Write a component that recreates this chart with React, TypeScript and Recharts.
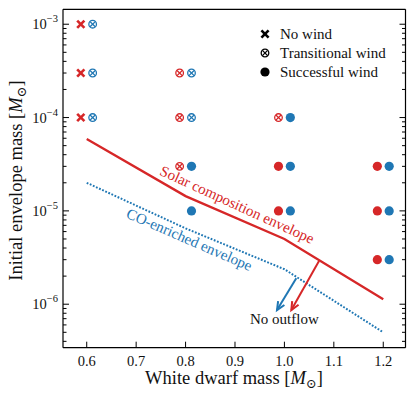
import React from "react"
import { ComposedChart, Line, Scatter, XAxis, YAxis, ReferenceLine, ReferenceDot } from "recharts"

const RED = "#d62728"
const BLUE = "#1f77b4"
const FONT = "'Liberation Serif', 'DejaVu Serif', serif"

// runs: [white dwarf mass, initial envelope mass]
const solarNoWind = [[0.6, 1e-3], [0.6, 3e-4], [0.6, 1e-4]]
const solarTransitional = [[0.8, 3e-4], [0.8, 1e-4], [0.8, 3e-5], [1.0, 1e-4]]
const solarSuccessful = [[1.0, 3e-5], [1.0, 1e-5], [1.2, 3e-5], [1.2, 1e-5], [1.2, 3e-6]]
const coTransitional = [[0.6, 1e-3], [0.6, 3e-4], [0.6, 1e-4], [0.8, 3e-4], [0.8, 1e-4]]
const coSuccessful = [[0.8, 3e-5], [0.8, 1e-5], [1.0, 1e-4], [1.0, 3e-5], [1.0, 1e-5], [1.2, 3e-5], [1.2, 1e-5], [1.2, 3e-6]]

// outflow boundaries
const boundaryMasses = [0.6, 0.8, 1.0, 1.2]
const solarBoundary = [5.9e-5, 1.44e-5, 5.0e-6, 1.13e-6]
const coBoundary = [2.0e-5, 6.5e-6, 2.37e-6, 5.0e-7]

// "No outflow" arrows: [start, end]
const solarArrow = [[1.07, 2.9e-6], [1.014, 8.65e-7]]
const coArrow = [[1.024, 1.9e-6], [0.985, 8.65e-7]]

const xTicks = [0.6, 0.7, 0.8, 0.9, 1.0, 1.1, 1.2]
const xDomain = [0.552, 1.245]
const yDomain = [3.42e-7, 1.445e-3]

// log axis: majors at decades, minors at 2..9 x decade
const yTicks: number[] = []
;[1e-7, 1e-6, 1e-5, 1e-4, 1e-3].forEach((d) => {
  for (let k = 1; k < 10; k++) {
    const v = d * k
    if (v >= yDomain[0] && v <= yDomain[1]) yTicks.push(v)
  }
})

const OFFSET = 0.012
const toPoints = (runs: number[][], dx: number) => runs.map(([m, e]) => ({ x: m + dx, y: e }))
const toLine = (ys: number[]) => boundaryMasses.map((m, i) => ({ x: m, y: ys[i] }))

const isMajor = (v: number) => Math.abs(Math.log10(v) - Math.round(Math.log10(v))) < 1e-6

const Cross = ({ cx, cy, color }: any) => (
  <g stroke={color} strokeWidth={2.6}>
    <line x1={cx - 3.6} y1={cy - 3.6} x2={cx + 3.6} y2={cy + 3.6} />
    <line x1={cx - 3.6} y1={cy + 3.6} x2={cx + 3.6} y2={cy - 3.6} />
  </g>
)
const OCross = ({ cx, cy, color }: any) => (
  <g stroke={color} strokeWidth={1.3} fill="none">
    <circle cx={cx} cy={cy} r={3.8} />
    <line x1={cx - 2.6} y1={cy - 2.6} x2={cx + 2.6} y2={cy + 2.6} />
    <line x1={cx - 2.6} y1={cy + 2.6} x2={cx + 2.6} y2={cy - 2.6} />
  </g>
)
const Dot = ({ cx, cy, color }: any) => <circle cx={cx} cy={cy} r={4.6} fill={color} />

const LeftTick = ({ x, y, payload }: any) => {
  const v = payload.value
  const major = isMajor(v)
  return (
    <g>
      <line x1={x} x2={x + (major ? 6 : 3.5)} y1={y} y2={y} stroke="#000" strokeWidth={1} />
      {major && (
        <text x={x - 5} y={y + 5} textAnchor="end" fontSize={14.5} fontFamily={FONT} fill="#111">
          10
          <tspan dy={-7} fontSize={10.5}>{"\u2212" + Math.abs(Math.round(Math.log10(v)))}</tspan>
        </text>
      )}
    </g>
  )
}
const RightTick = ({ x, y, payload }: any) => {
  const major = isMajor(payload.value)
  return <line x1={x} x2={x - (major ? 6 : 3.5)} y1={y} y2={y} stroke="#000" strokeWidth={1} />
}
const BottomTick = ({ x, y, payload }: any) => (
  <g>
    <line x1={x} x2={x} y1={y} y2={y - 6} stroke="#000" strokeWidth={1} />
    <text x={x} y={y + 18} textAnchor="middle" fontSize={14.5} fontFamily={FONT} fill="#111">
      {payload.value.toFixed(1)}
    </text>
  </g>
)
const TopTick = ({ x, y }: any) => <line x1={x} x2={x} y1={y} y2={y + 6} stroke="#000" strokeWidth={1} />

const arrowShape = (color: string) => (p: any) => {
  const { x1, y1, x2, y2 } = p
  const a = Math.atan2(y2 - y1, x2 - x1)
  const L = 9
  const w = 0.42
  const pts = `${x2 - L * Math.cos(a - w)},${y2 - L * Math.sin(a - w)} ${x2},${y2} ${x2 - L * Math.cos(a + w)},${y2 - L * Math.sin(a + w)}`
  return (
    <g>
      <line x1={x1} y1={y1} x2={x2} y2={y2} stroke={color} strokeWidth={2} />
      <polyline points={pts} fill="none" stroke={color} strokeWidth={2} />
    </g>
  )
}

const textShape = (label: string, color: string, angle: number) => (p: any) => (
  <text
    x={p.cx}
    y={p.cy}
    textAnchor="middle"
    fontSize={15}
    fontFamily={FONT}
    fill={color}
    transform={`rotate(${angle} ${p.cx} ${p.cy})`}
  >
    {label}
  </text>
)

const Msun = ({ size }: { size: number }) => (
  <>
    {"["}
    <tspan fontStyle="italic">M</tspan>
    <tspan fontSize={size * 0.7} dy={size * 0.22}>{"\u2299"}</tspan>
    <tspan dy={-size * 0.22}>{"]"}</tspan>
  </>
)

const legendRows = [
  { label: "No wind", Marker: Cross },
  { label: "Transitional wind", Marker: OCross },
  { label: "Successful wind", Marker: Dot },
]

export default function App() {
  return (
    <div style={{ position: "absolute", left: 0, top: 0, background: "#fff" }}>
      <ComposedChart width={415} height={398} margin={{ top: 0, right: 0, bottom: 0, left: 0 }}>
        <XAxis
          type="number"
          dataKey="x"
          domain={xDomain}
          allowDataOverflow
          ticks={xTicks}
          interval={0}
          height={50.3}
          tickSize={0}
          tickMargin={0}
          tickLine={false}
          tick={<BottomTick />}
          axisLine={{ stroke: "#000", strokeWidth: 1.2 }}
        />
        <XAxis
          xAxisId="top"
          orientation="top"
          type="number"
          domain={xDomain}
          allowDataOverflow
          ticks={xTicks}
          interval={0}
          height={9.3}
          tickSize={0}
          tickMargin={0}
          tickLine={false}
          tick={<TopTick />}
          axisLine={{ stroke: "#000", strokeWidth: 1.2 }}
        />
        <YAxis
          type="number"
          dataKey="y"
          scale="log"
          domain={yDomain}
          allowDataOverflow
          ticks={yTicks}
          interval={0}
          width={63}
          tickSize={0}
          tickMargin={0}
          tickLine={false}
          tick={<LeftTick />}
          axisLine={{ stroke: "#000", strokeWidth: 1.2 }}
        />
        <YAxis
          yAxisId="right"
          orientation="right"
          type="number"
          scale="log"
          domain={yDomain}
          allowDataOverflow
          ticks={yTicks}
          interval={0}
          width={9.5}
          tickSize={0}
          tickMargin={0}
          tickLine={false}
          tick={<RightTick />}
          axisLine={{ stroke: "#000", strokeWidth: 1.2 }}
        />

        <Line data={toLine(solarBoundary)} dataKey="y" type="linear" stroke={RED} strokeWidth={2.3} dot={false} isAnimationActive={false} />
        <Line data={toLine(coBoundary)} dataKey="y" type="linear" stroke={BLUE} strokeWidth={2} strokeDasharray="1.8 1.6" dot={false} isAnimationActive={false} />

        <Scatter data={toPoints(solarNoWind, -OFFSET)} shape={(p: any) => <Cross {...p} color={RED} />} isAnimationActive={false} />
        <Scatter data={toPoints(solarTransitional, -OFFSET)} shape={(p: any) => <OCross {...p} color={RED} />} isAnimationActive={false} />
        <Scatter data={toPoints(solarSuccessful, -OFFSET)} shape={(p: any) => <Dot {...p} color={RED} />} isAnimationActive={false} />
        <Scatter data={toPoints(coTransitional, OFFSET)} shape={(p: any) => <OCross {...p} color={BLUE} />} isAnimationActive={false} />
        <Scatter data={toPoints(coSuccessful, OFFSET)} shape={(p: any) => <Dot {...p} color={BLUE} />} isAnimationActive={false} />

        <ReferenceLine segment={solarArrow.map(([x, y]) => ({ x, y }))} shape={arrowShape(RED)} />
        <ReferenceLine segment={coArrow.map(([x, y]) => ({ x, y }))} shape={arrowShape(BLUE)} />

        <ReferenceDot x={0.9} y={1.04e-5} shape={textShape("Solar composition envelope", RED, 24.5)} />
        <ReferenceDot x={0.8035} y={4.4e-6} shape={textShape("CO-enriched envelope", BLUE, 23.5)} />
        <ReferenceDot x={1.0} y={6.08e-7} shape={textShape("No outflow", "#111", 0)} />

        <g>
          {legendRows.map(({ label, Marker }, i) => (
            <g key={label}>
              <Marker cx={265} cy={34 + i * 19} color="#000" />
              <text x={280} y={39 + i * 19} fontSize={15} fontFamily={FONT} fill="#111">
                {label}
              </text>
            </g>
          ))}
        </g>
        <text x={234} y={384} textAnchor="middle" fontSize={18.5} fontFamily={FONT} fill="#111">
          White dwarf mass <Msun size={18.5} />
        </text>
        <text
          x={22}
          y={180.5}
          textAnchor="middle"
          fontSize={18.5}
          fontFamily={FONT}
          fill="#111"
          transform="rotate(-90 22 180.5)"
        >
          Initial envelope mass <Msun size={18.5} />
        </text>
      </ComposedChart>
    </div>
  )
}
